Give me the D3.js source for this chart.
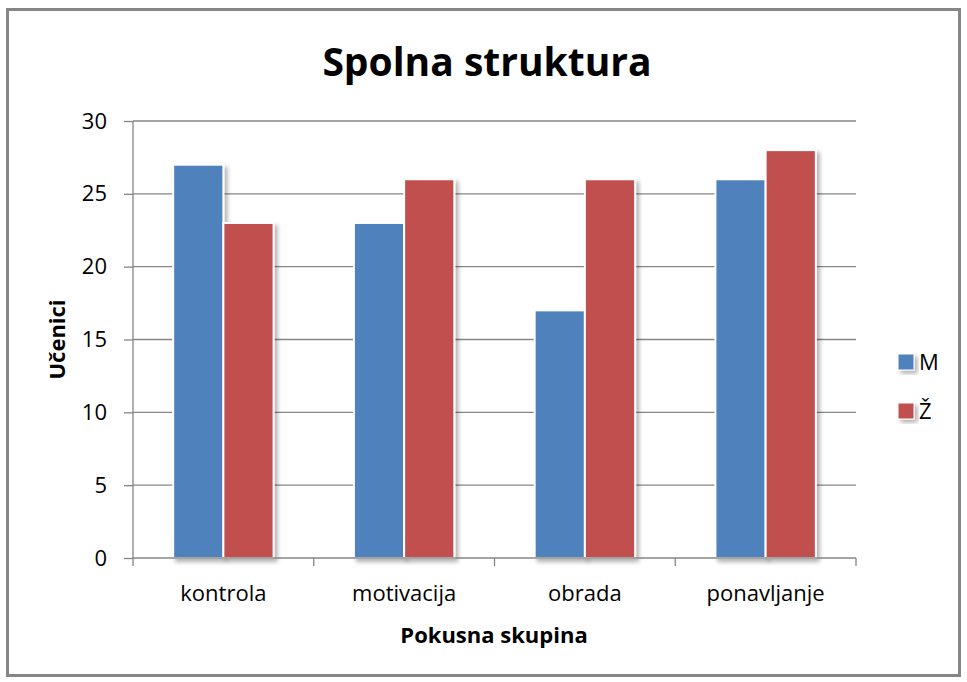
<!DOCTYPE html>
<html><head><meta charset="utf-8">
<script src="https://cdn.jsdelivr.net/npm/d3@7"></script>
<style>body{margin:0;background:#fff;}svg{display:block;font-family:"Open Sans","Noto Sans",sans-serif;}</style>
</head><body>
<script>
const categories = ["kontrola","motivacija","obrada","ponavljanje"];
const seriesNames = ["M","Ž"];
const valuesM = [27,23,17,26];
const valuesZ = [23,26,26,28];
const yTicks = [0,5,10,15,20,25,30];
const colors = ["#4f81bd","#c0504d"];

const W=967,H=682;
const svg=d3.select("body").append("svg").attr("width",W).attr("height",H);
const defs=svg.append("defs");
const f=defs.append("filter").attr("id","sh").attr("x","-20%").attr("y","-20%").attr("width","150%").attr("height","150%");
f.append("feDropShadow").attr("dx",3).attr("dy",3).attr("stdDeviation",2).attr("flood-color","#000").attr("flood-opacity",0.3);

svg.append("rect").attr("x",7.5).attr("y",9.5).attr("width",952).attr("height",666).attr("fill","#fff").attr("stroke","#868686").attr("stroke-width",3);

const pL=133,pR=856,pT=121,pB=558;
const x0=d3.scaleBand().domain(categories).range([pL,pR]).paddingInner(0).paddingOuter(0);
const bw = x0.bandwidth()/3.6;
const x1=d3.scaleBand().domain(seriesNames).range([0,bw*2]);
const y=d3.scaleLinear().domain([0,30]).range([pB,pT]);

// gridlines
svg.append("g").selectAll("line").data(yTicks.filter(d=>d>0)).join("line")
 .attr("x1",pL).attr("x2",pR).attr("y1",d=>y(d)).attr("y2",d=>y(d))
 .attr("stroke","#868686").attr("stroke-width",1.3);

// bars
const data = categories.map((c,i)=>({c, vals:[valuesM[i],valuesZ[i]]}));
const g=svg.append("g");
data.forEach(d=>{
  const gx = x0(d.c) + (x0.bandwidth()-bw*2)/2;
  seriesNames.forEach((s,j)=>{
    g.append("rect").attr("x",gx+x1(s)).attr("y",y(d.vals[j])).attr("width",x1.bandwidth()).attr("height",y(0)-y(d.vals[j]))
     .attr("fill",colors[j]).attr("stroke","#fff").attr("stroke-width",2).attr("filter","url(#sh)");
  });
});

// y axis
const ya=svg.append("g").attr("transform",`translate(${pL},0)`).call(d3.axisLeft(y).tickValues(yTicks).tickSize(9).tickPadding(17));
ya.select(".domain").attr("stroke","#868686").attr("stroke-width",1.3).attr("d",`M0,${pT}V${pB}`);
ya.selectAll(".tick line").attr("stroke","#868686").attr("stroke-width",1.3);
ya.selectAll("text").attr("font-size",22).attr("fill","#000").attr("font-family","'Open Sans',sans-serif");

// x axis
const xa=svg.append("g").attr("transform",`translate(0,${pB})`);
xa.append("line").attr("x1",pL).attr("x2",pR).attr("stroke","#868686").attr("stroke-width",1.3);
const bounds=categories.map(c=>x0(c)).concat([pR]);
xa.selectAll(".tk").data(bounds).join("line").attr("class","tk").attr("x1",d=>d).attr("x2",d=>d).attr("y1",0).attr("y2",8).attr("stroke","#868686").attr("stroke-width",1.3);
xa.selectAll("text").data(categories).join("text").attr("x",d=>x0(d)+x0.bandwidth()/2).attr("y",43)
 .attr("text-anchor","middle").attr("font-size",22).attr("fill","#000").text(d=>d);

// titles
svg.append("text").attr("x",487).attr("y",76).attr("text-anchor","middle").attr("font-size",39).attr("font-weight","bold").text("Spolna struktura");
svg.append("text").attr("x",494).attr("y",643).attr("text-anchor","middle").attr("font-size",22).attr("font-weight","bold").text("Pokusna skupina");
svg.append("text").attr("transform",`translate(65,${(pT+pB)/2}) rotate(-90)`).attr("text-anchor","middle").attr("font-size",22).attr("font-weight","bold").text("Učenici");

// legend
const lg=svg.append("g");
seriesNames.forEach((s,j)=>{
  const ly=354+j*49;
  lg.append("rect").attr("x",898).attr("y",ly).attr("width",16).attr("height",16).attr("fill",colors[j]).attr("stroke","#fff").attr("stroke-width",1).attr("filter","url(#sh)");
  lg.append("text").attr("x",919).attr("y",ly+16).attr("font-size",22).attr("fill","#000").text(s);
});
</script>
</body></html>
